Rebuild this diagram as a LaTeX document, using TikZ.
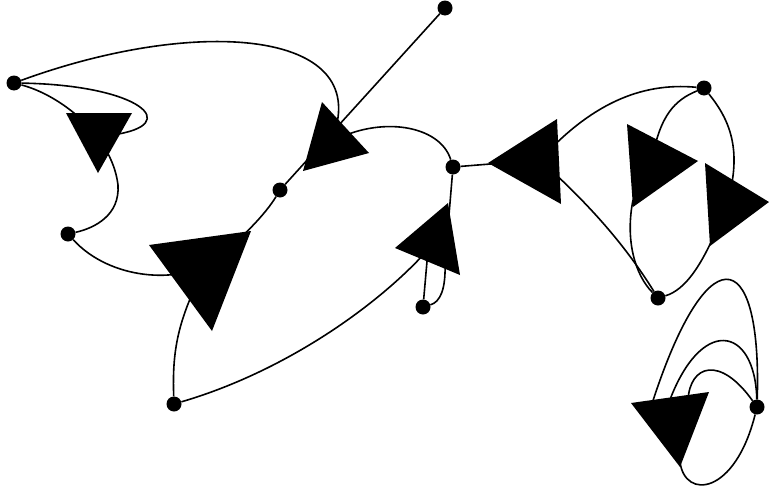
\documentclass[tikz,border=0pt]{standalone}
\begin{document}
\begin{tikzpicture}[x=1pt,y=-1pt,
  dot/.style={circle,fill=black,inner sep=0pt,minimum size=15pt},
  edge/.style={draw=black,line width=1.6pt},
  tri/.style={fill=black}]
\useasboundingbox (0,0) rectangle (769,490);
% vertices
\node[dot] (A) at (445,8) {};
\node[dot] (B) at (14,83) {};
\node[dot] (C) at (68,234) {};
\node[dot] (D) at (280,190) {};
\node[dot] (E) at (453,167) {};
\node[dot] (F) at (423,307) {};
\node[dot] (G) at (704,88) {};
\node[dot] (H) at (658,298) {};
\node[dot] (I) at (174,404) {};
\node[dot] (J) at (757,407) {};
% inner points of the triangles
\coordinate (t3) at (331,142);
\coordinate (t2) at (204,269);
\coordinate (t4) at (432,245);
\coordinate (t4top) at (449,215);
\coordinate (t5) at (540,160);
\coordinate (t6) at (652,160);
\coordinate (t7) at (728,200);
\coordinate (t8) at (675,420);
% edges
\draw[edge] (A) -- (D);
\draw[edge] (B) .. controls (200,15) and (378,30) .. (t3);
\draw[edge] (E) .. controls (440,125) and (380,115) .. (t3);
\draw[edge] (B) .. controls (60,95) and (112,135) .. (118,185) .. controls (120,215) and (95,228) .. (C);
\draw[edge] (B) .. controls (140,85) and (185,125) .. (112,135);
\draw[edge] (C) .. controls (110,280) and (180,285) .. (215,260) .. controls (240,240) and (265,215) .. (D);
\draw[edge] (I) .. controls (172,350) and (178,320) .. (t2);
\draw[edge] (I) .. controls (290,370) and (385,300) .. (t4);
\draw[edge] (E) -- (t4top);
\draw[edge] (F) -- (428,250);
\draw[edge] (F) .. controls (440,302) and (446,290) .. (445,262);
\draw[edge] (E) -- (t5);
\draw[edge] (t5) .. controls (590,105) and (640,82) .. (G);
\draw[edge] (t5) .. controls (590,205) and (625,245) .. (H);
\draw[edge] (G) .. controls (675,100) and (660,115) .. (t6);
\draw[edge] (G) .. controls (730,120) and (742,150) .. (t7);
\draw[edge] (633,200) .. controls (625,240) and (635,275) .. (H);
\draw[edge] (t7) .. controls (705,265) and (685,290) .. (H);
\draw[edge] (J) .. controls (762,240) and (705,235) .. (650,410);
\draw[edge] (J) .. controls (755,325) and (700,315) .. (668,405);
\draw[edge] (J) .. controls (720,355) and (690,365) .. (688,400);
\draw[edge] (t8) -- (680,462) .. controls (685,500) and (735,495) .. (J);
% triangles
\fill[tri] (66,113) -- (132,113) -- (98,173) -- cycle;
\fill[tri] (149,245) -- (251,231) -- (212,331) -- cycle;
\fill[tri] (322,102) -- (369,153) -- (303,171) -- cycle;
\fill[tri] (395,248) -- (448,203) -- (460,275) -- cycle;
\fill[tri] (488,163) -- (557,119) -- (561,204) -- cycle;
\fill[tri] (627,124) -- (698,161) -- (633,207) -- cycle;
\fill[tri] (705,163) -- (769,202) -- (710,246) -- cycle;
\fill[tri] (631,403) -- (709,392) -- (680,467) -- cycle;
\end{tikzpicture}
\end{document}
